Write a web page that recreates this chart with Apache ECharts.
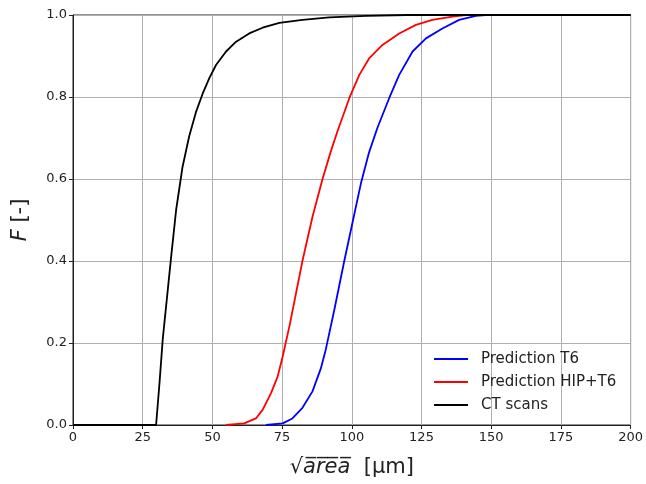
<!DOCTYPE html>
<html><head><meta charset="utf-8">
<script src="https://cdn.jsdelivr.net/npm/echarts@6/dist/echarts.min.js"></script>
<style>html,body{margin:0;padding:0;background:#fff}#c{width:646px;height:484px}</style>
</head><body><div id="c"></div>
<script>
const xTicks = [0, 25, 50, 75, 100, 125, 150, 175, 200];
const yTicks = [0.0, 0.2, 0.4, 0.6, 0.8, 1.0];
const seriesNames = ['Prediction T6', 'Prediction HIP+T6', 'CT scans'];

const t6X = [69.2, 75.2, 78.7, 82.3, 85.9, 88.9, 90.7, 93.7, 97.3, 100.3, 103.3, 106.2, 109.2, 113.4, 117.0, 121.8, 126.6, 132.5, 138.5, 144.5, 148.0, 200];
const t6Y = [0.0, 0.004, 0.016, 0.042, 0.082, 0.138, 0.185, 0.28, 0.40, 0.495, 0.59, 0.665, 0.725, 0.797, 0.854, 0.911, 0.943, 0.967, 0.988, 0.998, 1.0, 1.0];

const hipX = [54.9, 61.4, 65.6, 68.0, 71.0, 73.4, 75.2, 77.6, 79.4, 82.3, 85.9, 89.5, 92.5, 94.9, 99.1, 102.7, 106.2, 111.0, 117.0, 123.0, 128.9, 136.1, 140.9, 200];
const hipY = [0.0, 0.004, 0.016, 0.037, 0.077, 0.118, 0.167, 0.24, 0.301, 0.40, 0.508, 0.6, 0.668, 0.717, 0.797, 0.854, 0.894, 0.927, 0.955, 0.976, 0.988, 0.996, 1.0, 1.0];

const ctX = [0, 29.8, 31.0, 32.2, 33.7, 35.2, 37.0, 39.3, 41.7, 44.1, 46.5, 48.9, 51.3, 54.9, 58.5, 63.2, 68.0, 74.0, 82.3, 91.9, 105, 120, 200];
const ctY = [0.0, 0.0, 0.10, 0.21, 0.31, 0.41, 0.525, 0.63, 0.705, 0.763, 0.808, 0.846, 0.878, 0.911, 0.935, 0.955, 0.969, 0.981, 0.988, 0.994, 0.998, 1.0, 1.0];

const colors = ['#0000ff', '#ff0000', '#000000'];
const zip = (xs, ys) => xs.map((x, i) => [x, ys[i]]);

const font = 'DejaVu Sans';
const chart = echarts.init(document.getElementById('c'));
chart.setOption({
  animation: false,
  grid: {left: 73, right: 15, top: 15, bottom: 59, show: true, borderColor: '#222', borderWidth: 1},
  legend: {
    orient: 'vertical', left: 429, top: 346, itemGap: 7, itemWidth: 34, itemHeight: 2,
    icon: 'rect',
    textStyle: {fontFamily: font, fontSize: 15, color: '#222', lineHeight: 16, padding: [0, 0, 0, 8]},
    data: seriesNames
  },
  xAxis: {
    type: 'value', min: xTicks[0], max: xTicks[xTicks.length - 1], interval: 25,
    axisLine: {show: true, lineStyle: {color: '#222', width: 1}},
    axisTick: {show: true, inside: false, length: 4, lineStyle: {color: '#222'}},
    axisLabel: {fontFamily: font, fontSize: 13, color: '#222', margin: 6},
    splitLine: {show: true, lineStyle: {color: '#b0b0b0', width: 1}},
    name: '√{o|a̅r̅e̅a̅}  [μm]', nameLocation: 'middle', nameGap: 32,
    nameTextStyle: {fontFamily: font, fontSize: 21, color: '#222', rich: {o: {fontFamily: font, fontSize: 21, fontStyle: 'italic', color: '#222'}}}
  },
  yAxis: {
    type: 'value', min: yTicks[0], max: yTicks[yTicks.length - 1], interval: 0.2,
    axisLine: {show: true, lineStyle: {color: '#222', width: 1}},
    axisTick: {show: true, inside: false, length: 4, lineStyle: {color: '#222'}},
    axisLabel: {fontFamily: font, fontSize: 13, color: '#222', margin: 6, formatter: v => v.toFixed(1)},
    splitLine: {show: true, lineStyle: {color: '#b0b0b0', width: 1}},
    name: '{i|F} [-]', nameLocation: 'middle', nameGap: 42, nameRotate: 90,
    nameTextStyle: {fontFamily: font, fontSize: 21, color: '#222', rich: {i: {fontFamily: font, fontSize: 21, fontStyle: 'italic', color: '#222'}}}
  },
  series: [
    {name: seriesNames[0], type: 'line', data: zip(t6X, t6Y), showSymbol: false, lineStyle: {color: colors[0], width: 1.8}, itemStyle: {color: colors[0]}},
    {name: seriesNames[1], type: 'line', data: zip(hipX, hipY), showSymbol: false, lineStyle: {color: colors[1], width: 1.8}, itemStyle: {color: colors[1]}},
    {name: seriesNames[2], type: 'line', data: zip(ctX, ctY), showSymbol: false, lineStyle: {color: colors[2], width: 1.8}, itemStyle: {color: colors[2]}}
  ]
});
</script></body></html>
